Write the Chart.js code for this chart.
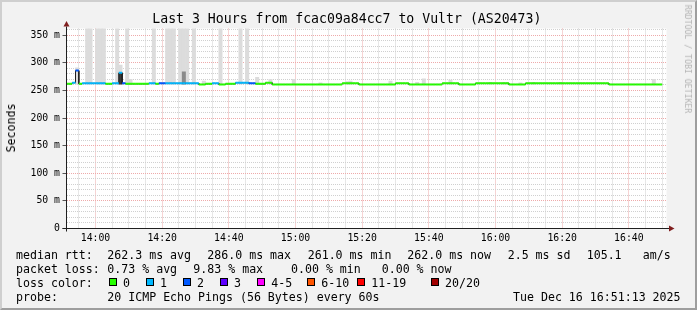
<!DOCTYPE html>
<html>
<head>
<meta charset="utf-8">
<script src="https://cdn.jsdelivr.net/npm/chart.js@4/dist/chart.umd.min.js"></script>
<style>
html,body{margin:0;padding:0;}
body{width:697px;height:310px;overflow:hidden;position:relative;background:#f2f2f2;font-family:"DejaVu Sans Mono",monospace;}
#frame{position:absolute;left:0;top:0;width:697px;height:310px;box-sizing:border-box;border-top:2px solid #cfcfcf;border-left:2px solid #cfcfcf;border-right:2px solid #9e9e9e;border-bottom:2px solid #9e9e9e;}
#c{position:absolute;left:0;top:0;}
.t{position:absolute;white-space:pre;font-size:11.6px;line-height:14px;color:#000;}
.box{position:absolute;width:8px;height:8px;box-sizing:border-box;border:1px solid #000;}
#title{position:absolute;left:152.3px;top:11.4px;font-size:13.2px;line-height:16px;white-space:pre;color:#000;}
#ylab{position:absolute;left:10.8px;top:128px;transform:translate(-50%,-50%) rotate(-90deg);font-size:11.6px;line-height:14px;white-space:pre;color:#000;}
#wm{position:absolute;left:688px;top:59px;transform:translate(-50%,-50%) rotate(90deg);font-size:8.2px;line-height:10px;white-space:pre;color:#b4b4b4;}
</style>
</head>
<body>
<div id="frame"></div>
<canvas id="c" width="697" height="310"></canvas>
<div id="title">Last 3 Hours from fcac09a84cc7 to Vultr (AS20473)</div>
<div id="ylab">Seconds</div>
<div id="wm">RRDTOOL / TOBI OETIKER</div>

<div class="t" style="left:16px;top:247.7px">median rtt:</div>
<div class="t" style="left:107.3px;top:247.7px">262.3 ms avg</div>
<div class="t" style="left:207.3px;top:247.7px">286.0 ms max</div>
<div class="t" style="left:307.7px;top:247.7px">261.0 ms min</div>
<div class="t" style="left:407.3px;top:247.7px">262.0 ms now</div>
<div class="t" style="left:507.7px;top:247.7px">2.5 ms sd</div>
<div class="t" style="left:586.7px;top:247.7px">105.1</div>
<div class="t" style="left:642.7px;top:247.7px">am/s</div>

<div class="t" style="left:16px;top:261.7px">packet loss:</div>
<div class="t" style="left:107.3px;top:261.7px">0.73 % avg</div>
<div class="t" style="left:193.3px;top:261.7px">9.83 % max</div>
<div class="t" style="left:291px;top:261.7px">0.00 % min</div>
<div class="t" style="left:381.7px;top:261.7px">0.00 % now</div>

<div class="t" style="left:16px;top:275.7px">loss color:</div>
<div id="lossLegend"></div>

<div class="t" style="left:16px;top:289.7px">probe:</div>
<div class="t" style="left:107.3px;top:289.7px">20 ICMP Echo Pings (56 Bytes) every 60s</div>
<div class="t" style="left:513px;top:289.7px">Tue Dec 16 16:51:13 2025</div>

<script>
// ---------------- DATA ----------------
// one sample per minute; sample k covers (minute-1 .. minute], minutes counted from 13:00
const START_MINUTE = 52;          // first sample ends at 13:52
const X_MIN = 51.3;               // graph start  (13:51:18)
const X_MAX = 231.3;              // graph end    (16:51:13)
const Y_MAX = 362.3;              // top of the plot in ms

// median round trip time (ms) per minute, 13:52 .. 16:50
const median = [
  262,262,264,286,262,263,263,263,263,263,
  263,263,262,262,263,263,282,263,262,262,
  262,262,262,262,262,263,263,262,263,263,
  263,263,263,263,263,263,263,263,263,263,
  261,261,262,262,263,263,261,261,262,262,
  262,264,264,264,264,263,263,262,262,262,
  264,264,261,261,261,261,261,261,261,261,
  261,261,261,261,261,261,261,261,261,261,
  261,261,261,263,263,263,263,263,261,261,
  261,261,261,261,261,261,261,261,261,263,
  263,263,263,261,261,261,261,261,261,261,
  261,261,261,263,263,263,263,263,261,261,
  261,261,261,263,263,263,263,263,263,263,
  263,263,263,261,261,261,261,261,263,263,
  263,263,263,263,263,263,263,263,263,263,
  263,263,263,263,263,263,263,263,263,263,
  263,263,263,261,261,261,261,261,261,261,
  261,261,261,261,261,261,261,261,261
];

// lost pings (of 20) per minute
const lossCount = [
  0,0,1,2,0,1,1,1,1,1,
  1,1,0,0,1,1,1,2,0,0,
  0,0,0,0,0,1,1,0,2,2,
  1,1,1,1,1,1,1,1,1,1,
  0,0,0,0,1,1,0,0,0,0,
  0,1,1,1,1,2,2,0,0,0,
  0,0,0,0,0,0,0,0,0,0,
  0,0,0,0,0,0,0,0,0,0,
  0,0,0,0,0,0,0,0,0,0,
  0,0,0,0,0,0,0,0,0,0,
  0,0,0,0,0,0,0,0,0,0,
  0,0,0,0,0,0,0,0,0,0,
  0,0,0,0,0,0,0,0,0,0,
  0,0,0,0,0,0,0,0,0,0,
  0,0,0,0,0,0,0,0,0,0,
  0,0,0,0,0,0,0,0,0,0,
  0,0,0,0,0,0,0,0,0,0,
  0,0,0,0,0,0,0,0,0
];

// smoke (spread of the 20 pings): minute and slowest ping (ms); LOST = pings lost, smoke to the top
const LOST = 'lost';
const smokeMinutes = [55, 58, 59, 61, 62, 63, 67, 68, 70, 71, 78, 82, 83, 84, 86, 87, 88, 90, 93, 98,
                      104, 106, 109, 113, 120, 128, 136, 137, 149, 157, 159, 167, 179, 183, 184, 188, 192, 200, 228];
const smokeTops    = [291, LOST, LOST, LOST, LOST, LOST, LOST, 296, LOST, 270, LOST, LOST, LOST, LOST, LOST, LOST, LOST, LOST, 267, LOST,
                      LOST, LOST, 274, 270, 270, 264, 266, 267, 267, 265, 271, 269, 265, 265, 265, 264, 265, 265, 270];
// dense part of the smoke
const denseSmokeMinutes = [68, 87];
const denseSmokeTops    = [281, 284];
const denseSmokeShade   = ['dark', 'mid'];

// loss legend labels
const lossLabels = ['0', '1', '2', '3', '4-5', '6-10', '11-19', '20/20'];

// ---------------- STYLE ----------------
const lossColors = ['#26ff00', '#00b8ff', '#0059ff', '#5e00ff', '#ff00ff', '#ff5500', '#ff0000', '#a10000'];
const legendBoxX = [108.7, 145.7, 182.7, 219.7, 257, 307, 357, 430.7];
const GRID = '#d0d0d0';
const MGRID = '#eeaaaa';
const AXIS = '#1f1f1f';
const ARROW = '#801f1f';
const FONT = "'DejaVu Sans Mono', monospace";

// loss legend
const lg = document.getElementById('lossLegend');
lossLabels.forEach((lab, k) => {
  const b = document.createElement('div');
  b.className = 'box';
  b.style.left = legendBoxX[k] + 'px';
  b.style.top = '278.3px';
  b.style.background = lossColors[k];
  lg.appendChild(b);
  const t = document.createElement('div');
  t.className = 't';
  t.style.left = (legendBoxX[k] + 14.3) + 'px';
  t.style.top = '275.7px';
  t.textContent = lab;
  lg.appendChild(t);
});

function lossBucket(n) {
  if (n <= 0) return 0;
  if (n <= 3) return n;
  if (n <= 5) return 4;
  if (n <= 10) return 5;
  if (n <= 19) return 6;
  return 7;
}

// ---------------- BUILD DATASETS ----------------
const lineBlack = [], lineLoss = [];
median.forEach((v, i) => {
  const m = START_MINUTE + i;
  lineBlack.push({x: m - 1, y: v}, {x: m, y: v});
  lineLoss.push({x: m - 1, y: v}, {x: m, y: v}, {x: m, y: null});
});

const lightSmoke = median.map((v, i) => {
  const m = START_MINUTE + i;
  const k = smokeMinutes.indexOf(m);
  if (k < 0) return {x: m - 0.5, y: null};
  const top = smokeTops[k] === LOST ? Y_MAX + 50 : smokeTops[k];
  return {x: m - 0.5, y: [Math.min(v, 262) - 0.5, top]};
});
const denseSmoke = median.map((v, i) => {
  const m = START_MINUTE + i;
  const k = denseSmokeMinutes.indexOf(m);
  if (k < 0) return {x: m - 0.5, y: null, shade: null};
  return {x: m - 0.5, y: [Math.min(v, 262) - 0.5, denseSmokeTops[k]], shade: denseSmokeShade[k]};
});

function fmtMinute(v) {
  const h = 13 + Math.floor(v / 60);
  const mm = Math.round(v % 60);
  return h + ':' + (mm < 10 ? '0' : '') + mm;
}
const isMult = (v, s) => Math.abs(v / s - Math.round(v / s)) < 1e-6;
function stepTicks(lo, hi, step) {
  const out = [];
  for (let v = Math.ceil(lo / step - 1e-9) * step; v <= hi + 1e-9; v += step) out.push({value: v});
  return out;
}

const framePlugin = {
  id: 'rrdFrame',
  beforeDraw(chart) {
    const {ctx, chartArea: a} = chart;
    ctx.save();
    ctx.fillStyle = '#ffffff';
    ctx.fillRect(a.left, a.top, a.right - a.left, a.bottom - a.top);
    ctx.restore();
  },
  afterDraw(chart) {
    const {ctx, chartArea: a, scales} = chart;
    const xs = scales.x, ys = scales.y;
    const y0 = ys.getPixelForValue(0);
    const x0 = xs.getPixelForValue(X_MIN);
    ctx.save();
    ctx.lineWidth = 1;
    // small tick marks left of the value axis at the major grid lines
    ys.ticks.forEach(t => {
      if (!isMult(t.value, 50)) return;
      const py = Math.round(ys.getPixelForValue(t.value) - 0.5) + 0.5;
      ctx.strokeStyle = '#555555';
      ctx.beginPath(); ctx.moveTo(x0 - 4, py); ctx.lineTo(x0, py); ctx.stroke();
    });
    // axes
    ctx.strokeStyle = AXIS;
    ctx.beginPath();
    ctx.moveTo(x0 - 4, y0); ctx.lineTo(a.right + 3, y0);
    ctx.moveTo(x0, y0 + 3); ctx.lineTo(x0, a.top - 2);
    ctx.stroke();
    // arrows
    ctx.fillStyle = ARROW;
    ctx.beginPath();
    ctx.moveTo(a.right + 2.5, y0 - 3); ctx.lineTo(a.right + 8, y0); ctx.lineTo(a.right + 2.5, y0 + 3);
    ctx.closePath(); ctx.fill();
    ctx.beginPath();
    ctx.moveTo(x0 - 3, a.top - 2); ctx.lineTo(x0, a.top - 7.5); ctx.lineTo(x0 + 3, a.top - 2);
    ctx.closePath(); ctx.fill();
    ctx.restore();
  }
};

Chart.defaults.font.family = FONT;

new Chart(document.getElementById('c'), {
  type: 'bar',
  data: {
    datasets: [
      {
        type: 'line', label: 'median', data: lineLoss, order: 0,
        borderWidth: 2, pointRadius: 0, spanGaps: false, tension: 0, fill: false,
        borderCapStyle: 'butt',
        segment: { borderColor: c => lossColors[lossBucket(lossCount[Math.floor(c.p0DataIndex / 3)])] }
      },
      {
        type: 'line', label: 'median-outline', data: lineBlack, order: 1,
        borderColor: '#202020', borderWidth: 1, pointRadius: 0, tension: 0, fill: false
      },
      {
        type: 'bar', label: 'dense smoke', data: denseSmoke, order: 2, grouped: false,
        barPercentage: 1, categoryPercentage: 1, borderWidth: 0, clip: 0,
        backgroundColor: c => (c.raw && c.raw.shade === 'dark') ? '#3a3a3a' : '#8a8a8a'
      },
      {
        type: 'bar', label: 'smoke', data: lightSmoke, order: 3, grouped: false,
        barPercentage: 1, categoryPercentage: 1, borderWidth: 0, clip: 0,
        backgroundColor: '#dcdcdc'
      }
    ]
  },
  options: {
    responsive: false, animation: false, devicePixelRatio: 1,
    layout: { padding: { left: 0, top: 28.5, right: 30.5, bottom: 0 } },
    plugins: { legend: { display: false }, tooltip: { enabled: false }, title: { display: false } },
    scales: {
      x: {
        type: 'linear', min: X_MIN, max: X_MAX, offset: false,
        afterFit: s => { s.height = 81.5; },
        afterBuildTicks: s => { s.ticks = stepTicks(X_MIN, X_MAX, 5); },
        ticks: {
          autoSkip: false, maxRotation: 0, minRotation: 0, padding: 4, color: '#000',
          font: { family: FONT, size: 9.8 },
          callback: v => isMult(v, 20) ? fmtMinute(v) : ''
        },
        grid: { offset: false, drawTicks: false, lineWidth: 1, color: c => (c.tick && isMult(c.tick.value, 20)) ? MGRID : GRID },
        border: { display: false, dash: [1, 1] }
      },
      y: {
        type: 'linear', min: 0, max: Y_MAX,
        afterFit: s => { s.width = 66.5; },
        afterBuildTicks: s => { s.ticks = stepTicks(0, Y_MAX, 10); },
        ticks: {
          autoSkip: false, padding: 6.5, color: '#000',
          font: { family: FONT, size: 9.8 },
          callback: v => isMult(v, 50) ? (v === 0 ? '0' : v + ' m') : ''
        },
        grid: { drawTicks: false, lineWidth: 1, color: c => (c.tick && isMult(c.tick.value, 50)) ? MGRID : GRID },
        border: { display: false, dash: [1, 1] }
      }
    }
  },
  plugins: [framePlugin]
});
</script>
</body>
</html>
